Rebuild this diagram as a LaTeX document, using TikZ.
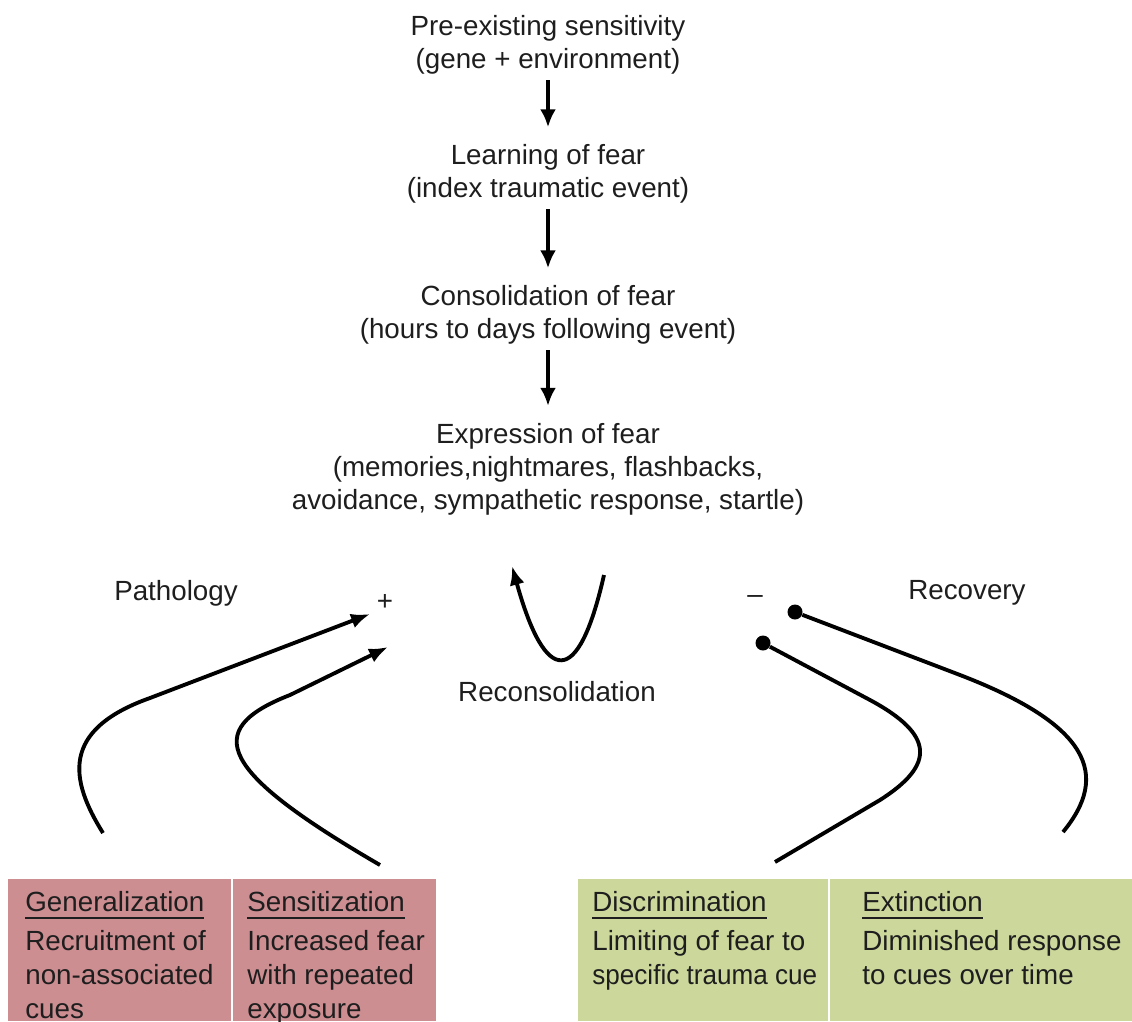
\documentclass[tikz,border=0pt]{standalone}
\usepackage{fontspec}
\setmainfont{Liberation Sans}
\usepackage{xcolor}
\usetikzlibrary{positioning,arrows.meta}
\definecolor{pathred}{RGB}{205,142,146}
\definecolor{recgreen}{RGB}{204,216,155}
\definecolor{inkgray}{RGB}{30,30,30}
\newsavebox{\headbox}
\newcommand{\cellhead}[1]{\sbox{\headbox}{#1}\usebox{\headbox}\llap{\rule[-4pt]{\wd\headbox}{1.1pt}}}

\begin{document}
\begin{tikzpicture}[x=0.02cm,y=-0.02cm,
    every node/.style={font=\fontsize{15.8}{18.7}\selectfont, text=inkgray},
    stage/.style={align=center, inner sep=0pt},
    flow/.style={line width=2.2pt, shorten <=0.11cm, shorten >=0.34cm,
      -{Latex[length=0.36cm,width=0.32cm]}},
    bentarrow/.style={line width=2.2pt, -{Latex[length=0.38cm,width=0.3cm]}},
    bentline/.style={line width=2.2pt},
    celltext/.style={anchor=north west, align=left, inner sep=0pt,
      font=\fontsize{15.8}{19.3}\selectfont},
    dotend/.style={circle, fill=black, inner sep=0pt, minimum size=0.3cm}]
  \useasboundingbox (0,0) rectangle (1132,1021);

  % main sequence
  \node[stage] (pre)     at (548,45)  {Pre-existing sensitivity\\(gene + environment)};
  \node[stage] (learn)   at (548,174) {Learning of fear\\(index traumatic event)};
  \node[stage] (consol)  at (548,315) {Consolidation of fear\\(hours to days following event)};
  \node[stage] (express) at (548,469) {Expression of fear\\(memories,nightmares, flashbacks,\\avoidance, sympathetic response, startle)};
  \draw[flow] (pre.south) -- (learn.north);
  \draw[flow] (learn.south) -- (consol.north);
  \draw[flow] (consol.south) -- (express.north);

  % side labels
  \node (patho) at (176,593) {Pathology};
  \node (recov) at (967,593) {Recovery};
  \node (plus)  at (385,602) {+};
  \node (minus) at (755,600) {–};
  \node (recon) at (557,692) {Reconsolidation};

  % reconsolidation loop
  \coordinate (loopA) at (604,575);
  \coordinate (loopB) at (512,566);
  \draw[bentarrow] (loopA) .. controls (578,690) and (545,685) .. (loopB);

  % boxes
  \fill[pathred]  (8,879)   rectangle (231,1021);
  \fill[pathred]  (233,879) rectangle (436,1021);
  \fill[recgreen] (578,879) rectangle (828,1021);
  \fill[recgreen] (830,879) rectangle (1132,1021);
  \node[celltext] (gen)  at (25,891)  {\cellhead{Generalization}\\[2.8pt]Recruitment of\\non-associated\\cues};
  \node[celltext] (sens) at (247,891) {\cellhead{Sensitization}\\[2.8pt]Increased fear\\with repeated\\exposure};
  \node[celltext] (disc) at (592,891) {\cellhead{Discrimination}\\[2.8pt]Limiting of fear to\\\scalebox{0.94}[1]{specific trauma cue}};
  \node[celltext] (ext)  at (862,891) {\cellhead{Extinction}\\[2.8pt]Diminished response\\to cues over time};

  % pathology arrows
  \coordinate (genTop)  at (103,833);
  \coordinate (sensTop) at (380,865);
  \coordinate (plusA)   at (370,614);
  \coordinate (plusB)   at (388,647);
  \draw[bentarrow] (genTop) .. controls (70,780) and (60,730) .. (150,698) -- (plusA);
  \draw[bentarrow] (sensTop) .. controls (220,772) and (200,730) .. (290,695) -- (plusB);

  % recovery lines
  \node[dotend] (dotA) at (795,612) {};
  \node[dotend] (dotB) at (763,643) {};
  \coordinate (extTop)  at (1063,832);
  \coordinate (discTop) at (775,862);
  \draw[bentline] (dotA) -- (960,675) .. controls (1090,725) and (1110,775) .. (extTop);
  \draw[bentline] (dotB) -- (870,700) .. controls (935,735) and (935,765) .. (880,800) -- (discTop);
\end{tikzpicture}
\end{document}
